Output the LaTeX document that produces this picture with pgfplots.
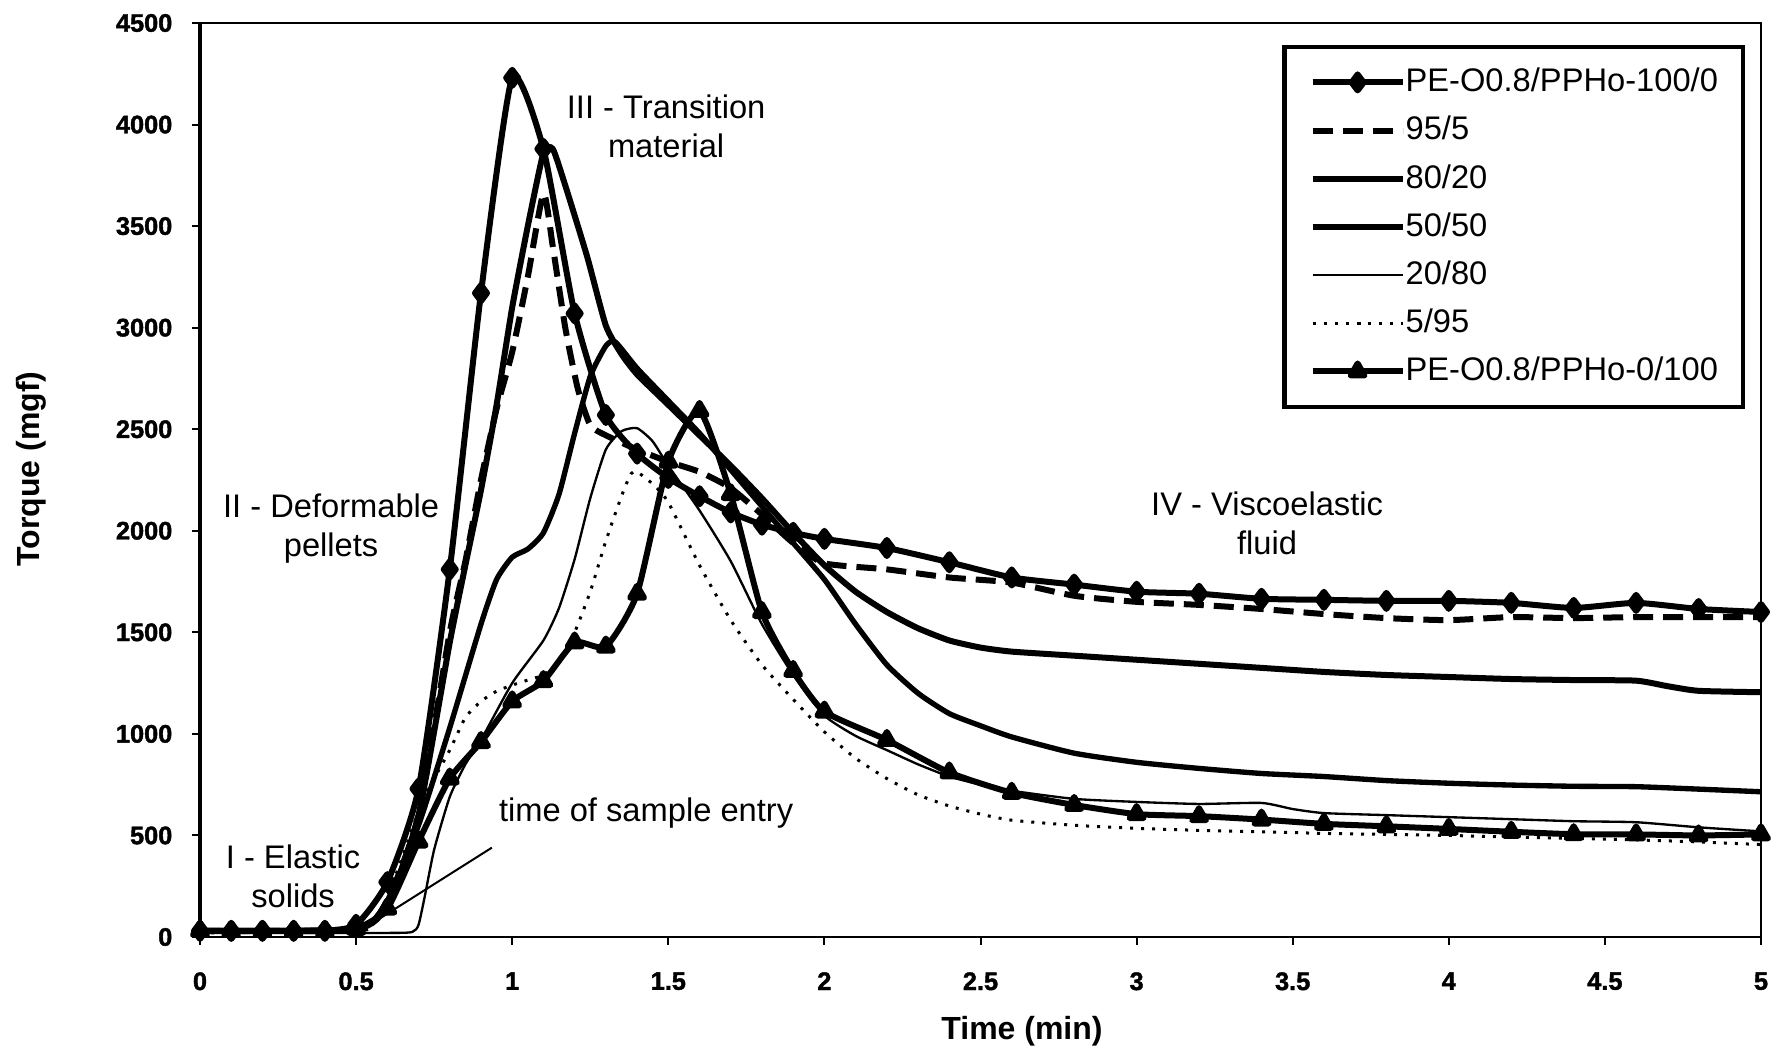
\documentclass[border=0pt]{standalone}
\usepackage{fontspec}
\setmainfont{Liberation Sans}
\newfontfamily\tickfont{Liberation Sans Bold}[FakeBold=1.6]
\usepackage{pgfplots}
\usepackage{pgfplotstable}
\pgfplotsset{compat=1.18}

% Torque (mgf) against time (min) for the PE-O0.8/PPHo blends
\pgfplotstableread{
t v
0 30
0.1 30
0.2 30
0.3 30
0.4 30
0.5 60
0.6 270
0.7 730
0.8 1810
0.9 3170
1.0 4230
1.1 3880
1.2 3070
1.3 2570
1.4 2380
1.5 2260
1.6 2170
1.7 2090
1.8 2030
1.9 1990
2.0 1960
2.2 1915
2.4 1845
2.6 1770
2.8 1735
3.0 1700
3.2 1690
3.4 1665
3.6 1660
3.8 1655
4.0 1655
4.2 1645
4.4 1620
4.6 1645
4.8 1615
5.0 1600
}\blendA

\pgfplotstableread{
t v
0 30
0.5 40
0.6 180
0.7 600
0.8 1500
0.85 1850
0.9 2250
0.95 2600
1.0 2880
1.05 3250
1.1 3660
1.13 3400
1.17 3000
1.21 2700
1.25 2520
1.3 2470
1.4 2400
1.5 2340
1.6 2290
1.7 2210
1.8 2080
1.9 1940
2.0 1840
2.2 1810
2.4 1770
2.6 1745
2.8 1680
3.0 1650
3.2 1635
3.4 1615
3.6 1590
3.8 1570
4.0 1560
4.2 1575
4.4 1570
4.6 1575
4.8 1575
5.0 1575
}\blendB

\pgfplotstableread{
t v
0 30
0.5 40
0.6 160
0.7 600
0.8 1450
0.85 1830
0.9 2200
0.95 2620
1.0 3100
1.05 3500
1.1 3860
1.13 3880
1.17 3700
1.24 3350
1.3 3010
1.35 2870
1.4 2770
1.5 2620
1.6 2470
1.7 2320
1.8 2160
1.9 1990
2.0 1830
2.1 1700
2.2 1600
2.3 1520
2.4 1460
2.5 1425
2.6 1405
2.8 1385
3.0 1365
3.2 1345
3.4 1325
3.6 1305
3.8 1290
4.0 1280
4.2 1270
4.4 1265
4.6 1262
4.7 1235
4.8 1212
5.0 1205
}\blendC

\pgfplotstableread{
t v
0 30
0.5 40
0.6 180
0.7 550
0.8 1030
0.9 1540
0.95 1760
1.0 1870
1.05 1910
1.1 1990
1.15 2180
1.2 2480
1.25 2760
1.3 2910
1.33 2930
1.4 2800
1.5 2640
1.6 2480
1.7 2300
1.8 2120
1.9 1940
2.0 1760
2.1 1540
2.2 1340
2.3 1200
2.4 1100
2.5 1040
2.6 985
2.8 905
3.0 860
3.2 830
3.4 805
3.6 790
3.8 770
4.0 757
4.2 748
4.4 742
4.6 740
4.8 728
5.0 715
}\blendD

\pgfplotstableread{
t v
0 20
0.6 20
0.68 25
0.7 60
0.72 200
0.75 430
0.8 690
0.85 850
0.9 970
1.0 1250
1.1 1460
1.15 1620
1.2 1860
1.25 2160
1.3 2400
1.35 2490
1.4 2505
1.45 2440
1.5 2320
1.6 2100
1.7 1850
1.8 1540
1.9 1290
2.0 1090
2.1 990
2.2 920
2.3 850
2.4 790
2.5 750
2.6 720
2.8 680
3.0 665
3.2 655
3.4 660
3.5 630
3.6 610
3.8 600
4.0 590
4.2 580
4.4 570
4.6 565
4.8 540
5.0 520
}\blendE

\pgfplotstableread{
t v
0 20
0.5 30
0.55 60
0.6 200
0.65 400
0.7 620
0.75 780
0.8 920
0.85 1080
0.9 1160
0.95 1210
1.0 1240
1.05 1265
1.1 1290
1.15 1350
1.2 1500
1.25 1700
1.3 1950
1.35 2170
1.38 2280
1.4 2290
1.45 2230
1.5 2140
1.6 1830
1.7 1560
1.8 1340
1.9 1170
2.0 1010
2.1 880
2.2 780
2.3 700
2.4 645
2.5 605
2.6 575
2.8 550
3.0 535
3.2 525
3.4 518
3.6 510
3.8 505
4.0 500
4.2 492
4.4 485
4.6 478
4.8 468
5.0 455
}\blendF

\pgfplotstableread{
t v
0 30
0.1 30
0.2 30
0.3 30
0.4 30
0.5 40
0.6 140
0.7 470
0.8 780
0.9 960
1.0 1160
1.1 1260
1.2 1450
1.3 1430
1.4 1690
1.5 2340
1.6 2590
1.7 2180
1.8 1600
1.9 1310
2.0 1110
2.2 970
2.4 810
2.6 710
2.8 650
3.0 605
3.2 595
3.4 578
3.6 557
3.8 545
4.0 532
4.2 518
4.4 506
4.6 505
4.8 500
5.0 505
}\blendG

\begin{document}
\begin{tikzpicture}
\useasboundingbox (-60pt,-34.2pt) rectangle (475.5pt,281.1pt);
\begin{axis}[
  at={(0pt,0pt)}, anchor=south west,
  scale only axis, width=468.3pt, height=274.2pt,
  xmin=0, xmax=5, ymin=0, ymax=4500,
  xtick={0,0.5,1,1.5,2,2.5,3,3.5,4,4.5,5},
  ytick={0,500,1000,1500,2000,2500,3000,3500,4000,4500},
  scaled ticks=false,
  /pgf/number format/1000 sep={},
  /pgf/number format/assume math mode=true,
  tick align=outside, xtick pos=bottom, ytick pos=left,
  major tick length=2.4pt,
  tick style={line width=0.6pt, black},
  axis line style={line width=0.6pt},
  ticklabel style={font=\tickfont\fontsize{7.6}{9}\selectfont},
  xticklabel style={anchor=north, inner sep=0pt, yshift=-8.0pt},
  yticklabel style={anchor=east, inner sep=0pt, xshift=-5.7pt},
  xlabel={Time (min)}, ylabel={Torque (mgf)},
  label style={font=\bfseries\fontsize{9.6}{11}\selectfont},
  xlabel style={at={(rel axis cs:0.5266,-0.1028)}, anchor=center, inner sep=0pt},
  ylabel style={at={(rel axis cs:-0.1083,0.512)}, anchor=center, rotate=0, inner sep=0pt},
  clip=false,
  every axis plot/.append style={line join=round, smooth, tension=0.35},
  legend image code/.code={\draw[mark repeat=2,mark phase=2,#1] plot coordinates {(0pt,0pt) (13.5pt,0pt) (27pt,0pt)};},
  legend style={at={(rel axis cs:0.9898,0.976)}, anchor=north east,
    draw=black, line width=1.3pt, fill=white,
    inner xsep=7.5pt, inner ysep=6.3pt, row sep=5.85pt,
    font=\fontsize{9.8}{11}\selectfont,
    nodes={inner sep=0pt}},
  legend cell align=left,
]
\addplot[black, line width=1.8pt, mark=diamond*, mark size=2.4pt, mark options={solid}] table {\blendA};
\addlegendentry{PE-O0.8/PPHo-100/0}
\addplot[black, line width=1.8pt, dash pattern=on 6pt off 3pt] table {\blendB};
\addlegendentry{95/5}
\addplot[black, line width=1.8pt] table {\blendC};
\addlegendentry{80/20}
\addplot[black, line width=1.6pt] table {\blendD};
\addlegendentry{50/50}
\addplot[black, line width=0.7pt] table {\blendE};
\addlegendentry{20/80}
\addplot[black, line width=0.9pt, dash pattern=on 0.9pt off 2.4pt] table {\blendF};
\addlegendentry{5/95}
\addplot[black, line width=1.8pt, mark=triangle*, mark size=2.4pt, mark options={solid}] table {\blendG};
\addlegendentry{PE-O0.8/PPHo-0/100}

% left axis drawn heavier than the frame
\draw[line width=1.2pt] (rel axis cs:0,0) -- (rel axis cs:0,1);

% stage annotations
\begin{scope}[every node/.style={font=\fontsize{9.8}{11.7}\selectfont, align=center, inner sep=0pt}]
\node at (axis cs:1.493,3990) {III - Transition\\material};
\node at (axis cs:0.42,2013) {II - Deformable\\pellets};
\node at (axis cs:3.418,2038) {IV - Viscoelastic\\fluid};
\node at (axis cs:0.298,300) {I - Elastic\\solids};
\node at (axis cs:1.429,610) {time of sample entry};
\end{scope}
\draw[line width=0.6pt] (axis cs:0.935,440) -- (axis cs:0.58,95);
\end{axis}
\end{tikzpicture}
\end{document}
